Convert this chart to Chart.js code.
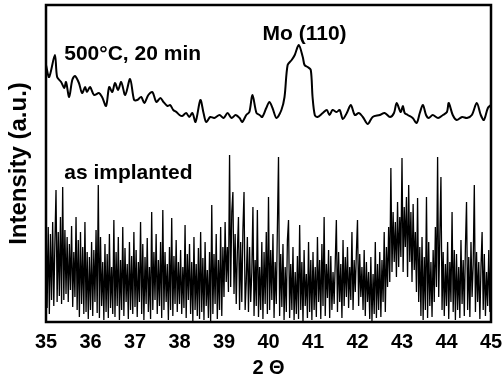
<!DOCTYPE html>
<html>
<head>
<meta charset="utf-8">
<script src="https://cdn.jsdelivr.net/npm/chart.js@4.4.0/dist/chart.umd.min.js"></script>
<style>
  html, body { margin: 0; padding: 0; background: #fff; }
  #wrap { width: 503px; height: 378px; }
</style>
</head>
<body>
<div id="wrap"><canvas id="xrd"></canvas></div>
<script>
// XRD scans, 2-theta 35..45, intensity in arbitrary units

// x tick labels
const TICKS_2THETA = [35, 36, 37, 38, 39, 40, 41, 42, 43, 44, 45];

// 500 °C, 20 min anneal (upper trace), read point by point
const annealX = [
  35.00, 35.07, 35.20, 35.25, 35.34, 35.41, 35.45, 35.52, 35.59, 35.65,
  35.74, 35.81, 35.88, 35.92, 35.99, 36.08, 36.19, 36.26, 36.35, 36.42,
  36.49, 36.55, 36.62, 36.69, 36.78, 36.89, 36.98, 37.05, 37.14, 37.21,
  37.30, 37.39, 37.48, 37.57, 37.64, 37.73, 37.79, 37.86, 37.93, 38.00,
  38.06, 38.15, 38.22, 38.29, 38.36, 38.47, 38.54, 38.60, 38.69, 38.78,
  38.90, 38.99, 39.08, 39.17, 39.26, 39.35, 39.41, 39.50, 39.57, 39.64,
  39.73, 39.80, 39.86, 39.95, 40.02, 40.09, 40.18, 40.29, 40.36, 40.43,
  40.52, 40.59, 40.68, 40.77, 40.81, 40.88, 40.95, 40.99, 41.04, 41.10,
  41.22, 41.31, 41.37, 41.44, 41.53, 41.60, 41.67, 41.76, 41.85, 41.94,
  42.03, 42.12, 42.23, 42.34, 42.50, 42.61, 42.73, 42.82, 42.88, 42.97,
  43.02, 43.06, 43.13, 43.24, 43.33, 43.40, 43.47, 43.54, 43.60, 43.69,
  43.81, 43.92, 44.01, 44.05, 44.14, 44.23, 44.35, 44.46, 44.57, 44.68,
  44.77, 44.84, 44.93, 45.00
];
const annealY = [
  257, 245, 267, 245, 240, 234, 240, 225, 242, 246,
  239, 229, 235, 230, 235, 227, 229, 225, 216, 235,
  230, 239, 232, 240, 227, 243, 222, 222, 225, 219,
  227, 230, 220, 224, 220, 216, 217, 212, 210, 207,
  206, 209, 205, 209, 200, 222, 209, 200, 205, 204,
  207, 204, 209, 204, 207, 204, 200, 207, 210, 227,
  209, 207, 205, 214, 220, 214, 204, 212, 225, 257,
  262, 267, 277, 265, 257, 255, 252, 225, 207, 205,
  209, 212, 207, 212, 210, 212, 203, 209, 217, 207,
  209, 205, 198, 205, 207, 209, 205, 209, 219, 210,
  216, 209, 207, 204, 199, 209, 217, 207, 204, 207,
  204, 207, 210, 219, 207, 202, 205, 204, 207, 219,
  207, 202, 214, 217
];

// as implanted (lower trace), evenly sampled across 35..45
const implantedY = [
  110, 14, 95, 8, 88, 22, 100, 16, 80, 132, 20, 90, 26, 105, 18, 135, 22, 92, 28, 85,
  20, 78, 32, 96, 15, 70, 25, 105, 12, 82, 5, 90, 18, 75, 8, 100, 10, 70, 3, 65,
  12, 80, 6, 72, 20, 92, 9, 137, 4, 85, 16, 60, 2, 78, 10, 68, 4, 88, 14, 55,
  8, 102, 5, 70, 16, 85, 2, 62, 12, 95, 6, 74, 20, 58, 3, 80, 12, 66, 8, 90,
  15, 72, 5, 60, 20, 100, 8, 78, 2, 65, 18, 84, 10, 55, 3, 110, 12, 70, 22, 88,
  8, 62, 16, 80, 4, 112, 12, 70, 20, 58, 2, 75, 12, 104, 6, 66, 18, 82, 10, 60,
  18, 72, 8, 55, 14, 97, 4, 68, 22, 78, 8, 60, 1, 85, 12, 58, 6, 74, 3, 90,
  10, 64, 2, 80, 16, 52, 4, 70, 0, 117, 8, 68, 18, 88, 3, 62, 12, 95, 6, 75,
  25, 100, 40, 75, 30, 167, 35, 110, 130, 28, 88, 18, 70, 105, 12, 80, 20, 92, 130, 12,
  40, 85, 10, 75, 20, 50, 115, 6, 62, 16, 112, 5, 55, 12, 80, 3, 70, 18, 90, 8,
  125, 12, 72, 22, 88, 4, 60, 18, 95, 165, 6, 68, 15, 78, 2, 55, 10, 82, 102, 4,
  58, 12, 75, 2, 50, 8, 66, 3, 97, 12, 60, 0, 72, 16, 48, 4, 80, 10, 62, 2,
  70, 12, 55, 5, 85, 20, 62, 3, 78, 16, 105, 6, 58, 24, 72, 4, 66, 12, 50, 18,
  60, 102, 10, 70, 20, 58, 4, 82, 16, 65, 25, 75, 14, 55, 22, 90, 12, 62, 30, 70,
  102, 16, 68, 25, 55, 12, 72, 6, 60, 20, 50, 3, 65, 1, 48, 8, 80, 4, 58, 12,
  70, 5, 62, 20, 90, 10, 75, 35, 95, 40, 154, 50, 110, 60, 100, 45, 120, 55, 105, 65,
  164, 50, 115, 75, 125, 45, 137, 60, 110, 40, 118, 52, 90, 30, 124, 20, 75, 6, 85, 2,
  65, 12, 125, 4, 80, 16, 60, 5, 72, 20, 95, 35, 165, 25, 85, 145, 12, 70, 6, 58,
  16, 80, 3, 60, 20, 110, 10, 72, 2, 68, 12, 55, 4, 82, 18, 62, 6, 75, 120, 12,
  65, 5, 80, 25, 58, 137, 10, 70, 20, 60, 3, 55, 90, 12, 68, 6, 50, 16, 72, 10,
  80
];

// text labels placed in data coordinates: [text, x, y, align]
const labels = [
  ["500°C, 20 min", 35.41, 262, "left"],
  ["Mo (110)", 40.81, 282, "center"],
  ["as implanted", 35.41, 143, "left"]
];

const X_MIN = 35, X_MAX = 45, Y_MIN = 0, Y_MAX = 317;
const FONT = "'Liberation Sans', Arial, sans-serif";

const annealPts = annealX.map((x, i) => ({ x: x, y: annealY[i] }));
const implantedPts = implantedY.map((y, i) => ({
  x: X_MIN + i * (X_MAX - X_MIN) / (implantedY.length - 1),
  y: y
}));

// frame around the plot area
const framePlugin = {
  id: "frame",
  afterDatasetsDraw(chart) {
    const a = chart.chartArea, ctx = chart.ctx;
    ctx.save();
    ctx.strokeStyle = "#000";
    ctx.lineWidth = 2.5;
    ctx.strokeRect(a.left, a.top, a.right - a.left, a.bottom - a.top);
    ctx.restore();
  }
};

// in-plot text labels
const textPlugin = {
  id: "texts",
  afterDraw(chart) {
    const ctx = chart.ctx, sx = chart.scales.x, sy = chart.scales.y;
    ctx.save();
    ctx.fillStyle = "#000";
    ctx.font = "bold 21px " + FONT;
    ctx.textBaseline = "alphabetic";
    labels.forEach(([t, x, y, al]) => {
      ctx.textAlign = al;
      ctx.fillText(t, sx.getPixelForValue(x), sy.getPixelForValue(y));
    });
    ctx.restore();
  }
};

new Chart(document.getElementById("xrd"), {
  type: "line",
  data: {
    datasets: [
      {
        label: "500°C, 20 min",
        data: annealPts,
        borderColor: "#000",
        borderWidth: 2,
        pointRadius: 0,
        tension: 0.3,
        fill: false
      },
      {
        label: "as implanted",
        data: implantedPts,
        borderColor: "#000",
        borderWidth: 1.3,
        pointRadius: 0,
        tension: 0,
        fill: false
      }
    ]
  },
  options: {
    responsive: true,
    maintainAspectRatio: false,
    animation: false,
    layout: { padding: { top: 5, right: 12, left: 0, bottom: 0 } },
    plugins: { legend: { display: false }, tooltip: { enabled: false } },
    scales: {
      x: {
        type: "linear",
        min: X_MIN,
        max: X_MAX,
        afterBuildTicks: (s) => { s.ticks = TICKS_2THETA.map(v => ({ value: v })); },
        afterFit: (s) => { s.height = 56; s.paddingLeft = 0; s.paddingRight = 0; },
        grid: { display: false, drawTicks: false },
        border: { display: false },
        ticks: {
          color: "#000",
          padding: 8,
          maxRotation: 0,
          autoSkip: false,
          font: { family: FONT, size: 20, weight: "bold" }
        },
        title: {
          display: true,
          text: "2 Θ",
          color: "#000",
          padding: { top: 0, bottom: 0 },
          font: { family: FONT, size: 20, weight: "bold", lineHeight: 1.0 }
        }
      },
      y: {
        min: Y_MIN,
        max: Y_MAX,
        afterFit: (s) => { s.width = 46; },
        grid: { display: false, drawTicks: false },
        border: { display: false },
        ticks: { display: false },
        title: {
          display: true,
          text: "Intensity (a.u.)",
          color: "#000",
          padding: { top: 5, bottom: 0 },
          font: { family: FONT, size: 24, weight: "bold" }
        }
      }
    }
  },
  plugins: [framePlugin, textPlugin]
});
</script>
</body>
</html>
